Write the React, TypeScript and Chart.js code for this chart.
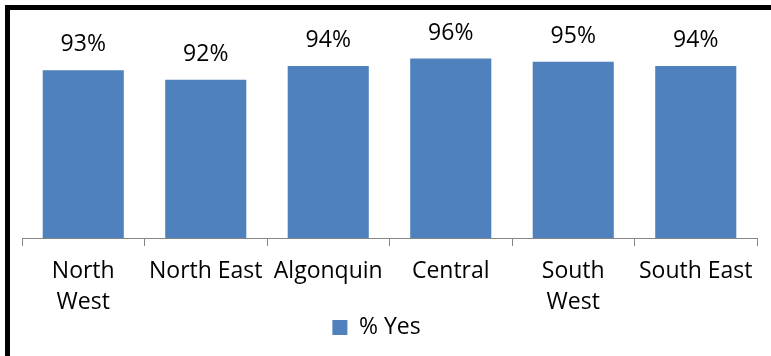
import React, { useEffect, useRef } from "react";
import { Chart, registerables } from "chart.js";

Chart.register(...registerables);

const categories: (string | string[])[] = [
  ["North", "West"],
  "North East",
  "Algonquin",
  "Central",
  ["South", "West"],
  "South East",
];
const seriesLabel = "% Yes";
const yesValues = [93.4, 91.6, 94.2, 95.6, 95.0, 94.2];
const barColor = "#4F81BD";
const axisColor = "#868686";
const FONT = "'Open Sans', 'Noto Sans', sans-serif";
const FS = 23;

const valueLabels = {
  id: "valueLabels",
  afterDatasetsDraw(chart: any) {
    const ctx = chart.ctx;
    const meta = chart.getDatasetMeta(0);
    ctx.save();
    ctx.font = `${FS}px ${FONT}`;
    ctx.fillStyle = "#000";
    ctx.textAlign = "center";
    ctx.textBaseline = "alphabetic";
    meta.data.forEach((bar: any, i: number) => {
      const v = chart.data.datasets[0].data[i] as number;
      ctx.fillText(Math.round(v) + "%", bar.x, bar.y - 19);
    });
    ctx.restore();
  },
};

const legendShift = {
  id: "legendShift",
  afterLayout(chart: any) {
    if (chart.legend) {
      chart.legend.left -= 13;
      chart.legend.right -= 13;
    }
  },
};

export default function App() {
  const ref = useRef<HTMLCanvasElement>(null);
  useEffect(() => {
    if (!ref.current) return;
    const chart = new Chart(ref.current, {
      type: "bar",
      data: {
        labels: categories,
        datasets: [
          {
            label: seriesLabel,
            data: yesValues,
            backgroundColor: barColor,
            barPercentage: 0.662,
            categoryPercentage: 1,
          },
        ],
      },
      options: {
        responsive: false,
        animation: false,
        layout: { padding: { left: 12, right: 14, top: 25.3, bottom: 7 } },
        plugins: {
          legend: {
            position: "bottom",
            labels: {
              font: { family: FONT, size: FS },
              color: "#000",
              boxWidth: 15,
              boxHeight: 15,
              padding: 0,
            },
          },
          tooltip: { enabled: false },
        },
        scales: {
          y: { display: false, min: 61.75, max: 100 },
          x: {
            grid: {
              offset: true,
              drawOnChartArea: false,
              drawTicks: true,
              tickLength: 8,
              color: axisColor,
            },
            border: { display: true, color: axisColor, width: 1 },
            ticks: {
              font: { family: FONT, size: FS, lineHeight: 1.35 },
              color: "#000",
              padding: 10,
              maxRotation: 0,
              autoSkip: false,
            },
            afterFit(scale: any) {
              scale.height = 78;
            },
          },
        },
      },
      plugins: [valueLabels, legendShift],
    });
    return () => chart.destroy();
  }, []);

  return (
    <div
      style={{
        position: "fixed",
        left: 0,
        top: 0,
        width: 771,
        height: 356,
        overflow: "hidden",
        background: "#fff",
      }}
    >
      <div
        style={{
          position: "absolute",
          left: 5,
          top: 5,
          width: 766,
          height: 351,
          borderLeft: "5px solid #000",
          borderTop: "5px solid #000",
          boxSizing: "border-box",
        }}
      />
      <canvas
        ref={ref}
        width={761}
        height={346}
        style={{ position: "absolute", left: 10, top: 10, width: 761, height: 346 }}
      />
    </div>
  );
}
